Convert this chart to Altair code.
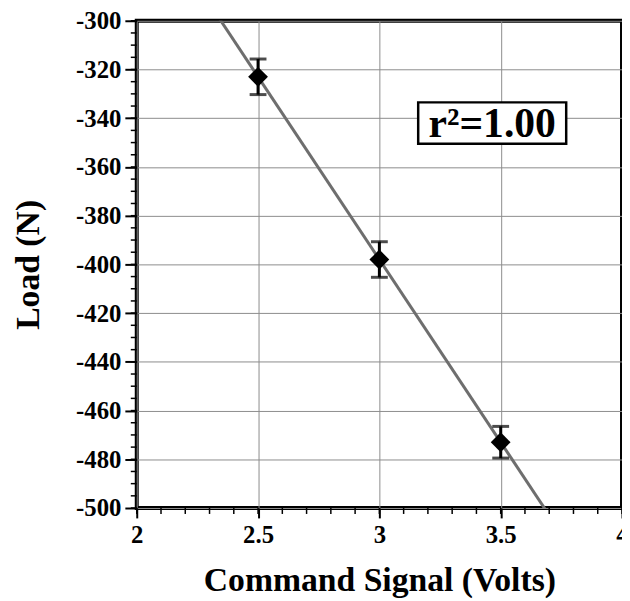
import altair as alt
import pandas as pd

# data
signal = [2.5, 3.0, 3.5]
load = [-323, -398, -473]
err = [7.3, 7.3, 6.5]
x_major = [2, 2.5, 3, 3.5, 4]
x_minor = [round(2 + 0.1 * i, 1) for i in range(21)]
y_major = list(range(-500, -299, 20))
y_minor = list(range(-500, -299, 5))
box_x = [3.16, 3.77]
box_y = [-333.5, -350.5]
label_text = "r\u00b2=1.00"

df = pd.DataFrame({"x": signal, "y": load,
                   "lo": [l - e for l, e in zip(load, err)],
                   "hi": [l + e for l, e in zip(load, err)]})

FONT = "Liberation Serif"
xs = alt.Scale(domain=[2, 4], nice=False, zero=False)
ys = alt.Scale(domain=[-500, -300], nice=False, zero=False)

xaxis = alt.Axis(values=x_major, title="Command Signal (Volts)", grid=True,
                 tickSize=10, labelPadding=5, titlePadding=16, labelFlush=False,
                 labelExpr="'' + datum.value")
yaxis = alt.Axis(values=y_major, title="Load (N)", grid=True,
                 tickSize=12, labelPadding=4, titlePadding=30,
                 labelExpr="'' + datum.value")

base = alt.Chart(df)

fit = base.transform_regression("x", "y", extent=[2, 4]).mark_line(
    color="#6e6e6e", strokeWidth=3, clip=True
).encode(x=alt.X("x:Q", scale=xs, axis=xaxis), y=alt.Y("y:Q", scale=ys, axis=yaxis))

bars = base.mark_rule(color="black", strokeWidth=3).encode(
    x=alt.X("x:Q", scale=xs), y=alt.Y("lo:Q", scale=ys), y2="hi:Q")
caps_lo = base.mark_tick(color="black", orient="horizontal", size=17, thickness=3).encode(
    x=alt.X("x:Q", scale=xs), y=alt.Y("lo:Q", scale=ys))
caps_hi = base.mark_tick(color="black", orient="horizontal", size=17, thickness=3).encode(
    x=alt.X("x:Q", scale=xs), y=alt.Y("hi:Q", scale=ys))
pts = base.mark_point(shape="diamond", filled=True, size=400, color="black", opacity=1).encode(
    x=alt.X("x:Q", scale=xs), y=alt.Y("y:Q", scale=ys))

# minor ticks
mx = alt.Chart(pd.DataFrame({"v": x_minor})).mark_rule(color="black", strokeWidth=1.5).encode(
    x=alt.X("v:Q", scale=xs), y=alt.value(492), y2=alt.value(498))
my = alt.Chart(pd.DataFrame({"v": y_minor})).mark_rule(color="black", strokeWidth=1.5).encode(
    y=alt.Y("v:Q", scale=ys), x=alt.value(0), x2=alt.value(-6))

bdf = pd.DataFrame({"x1": [box_x[0]], "x2": [box_x[1]], "y1": [box_y[0]], "y2": [box_y[1]],
                    "xc": [(box_x[0] + box_x[1]) / 2], "yc": [(box_y[0] + box_y[1]) / 2],
                    "t": [label_text]})
box = alt.Chart(bdf).mark_rect(fill="white", stroke="black", strokeWidth=2.5).encode(
    x=alt.X("x1:Q", scale=xs), x2="x2:Q", y=alt.Y("y1:Q", scale=ys), y2="y2:Q")
txt = alt.Chart(bdf).mark_text(font=FONT, fontSize=42, fontWeight="bold", color="black",
                               baseline="middle", align="center", dy=1).encode(
    x=alt.X("xc:Q", scale=xs), y=alt.Y("yc:Q", scale=ys), text="t:N")

chart = alt.layer(fit, mx, my, bars, caps_lo, caps_hi, pts, box, txt).properties(
    width=490, height=492,
    autosize=alt.AutoSizeParams(type="none"),
    padding={"left": 130, "top": 10, "right": 0, "bottom": 91},
    background="white",
).configure_view(stroke="black", strokeWidth=4).configure_axis(
    gridColor="#8c8c8c", gridWidth=1, tickWidth=2, tickColor="black", domain=False,
    labelFont=FONT, labelFontSize=25, labelFontWeight="bold", labelColor="black",
    titleFont=FONT, titleFontSize=34, titleFontWeight="bold", titleColor="black",
)

chart.save("out.html", embed_options={"renderer": "svg", "actions": False})
